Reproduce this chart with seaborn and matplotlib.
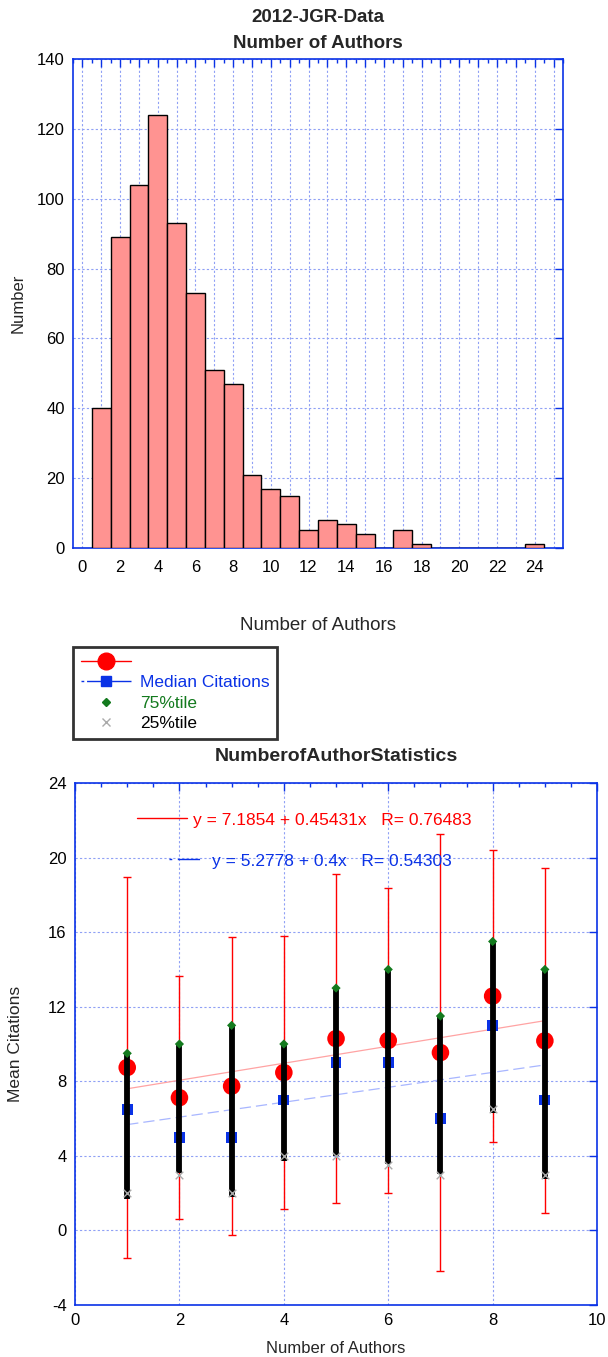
import numpy as np
import matplotlib
matplotlib.use("Agg")
import matplotlib.pyplot as plt
from matplotlib.lines import Line2D
from matplotlib.ticker import MultipleLocator, FuncFormatter
import seaborn as sns

# Histograma: cantidad de autores por artículo
autores = np.arange(1, 25)
cantidad = [40, 89, 104, 124, 93, 73, 51, 47, 21, 17, 15, 5, 8, 7, 4, 0, 5, 1, 0, 0, 0, 0, 0, 1]

# Estadísticas de citas según número de autores
n_autores = np.arange(1, 10)
media_citas = [8.74, 7.12, 7.74, 8.47, 10.29, 10.19, 9.54, 12.57, 10.17]
desvio_citas = [10.21, 6.52, 8.0, 7.3, 8.81, 8.18, 11.73, 7.84, 9.25]
mediana_citas = [6.5, 5, 5, 7, 9, 9, 6, 11, 7]
p75 = [9.5, 10, 11, 10, 13, 14, 11.5, 15.5, 14]
p25 = [2, 3, 2, 4, 4, 3.5, 3, 6.5, 3]
barra_baja = [1.7, 3.1, 1.8, 3.7, 4.0, 3.55, 3.05, 6.3, 2.75]

texto_media = "y = 7.1854 + 0.45431x   R= 0.76483"
texto_mediana = "y = 5.2778 + 0.4x   R= 0.54303"

sns.set_theme(style="white")
plt.rcParams["font.family"] = ["Liberation Sans", "DejaVu Sans"]
plt.rcParams["axes.unicode_minus"] = False

azul = "#0a32e6"
grilla = "#8fa0f5"
verde = "#137a1e"

fig = plt.figure(figsize=(6.08, 13.57), dpi=100)
ax1 = fig.add_axes([0.120, 0.5962, 0.806, 0.3603])
ax2 = fig.add_axes([0.1234, 0.0383, 0.8586, 0.3847])


def estilo(ax):
    for s in ax.spines.values():
        s.set_color(azul)
        s.set_linewidth(1.2)
    ax.tick_params(which="both", direction="in", top=True, right=True,
                   color=azul, labelsize=12, labelcolor="black", pad=6)
    ax.tick_params(which="major", length=6, width=1)
    ax.tick_params(which="minor", length=3, width=1)


# Bloque 1: histograma
sns.histplot(x=autores, weights=cantidad, discrete=True, ax=ax1,
             color="#ff9391", edgecolor="black", linewidth=1, alpha=1, zorder=3)
ax1.set_xlim(-0.5, 25.5)
ax1.set_ylim(0, 140)
ax1.xaxis.set_major_locator(MultipleLocator(1))
ax1.xaxis.set_minor_locator(MultipleLocator(0.5))
ax1.xaxis.set_major_formatter(FuncFormatter(lambda v, p: f"{v:.0f}" if round(v) % 2 == 0 else ""))
ax1.yaxis.set_major_locator(MultipleLocator(20))
ax1.grid(True, which="major", color=grilla, ls=(0, (2, 2)), lw=0.8, zorder=0)
ax1.set_axisbelow(True)
estilo(ax1)
ax1.tick_params(axis="x", pad=9)
ax1.tick_params(axis="y", which="minor", left=False, right=False)
ax1.set_xlabel("Number of Authors", fontsize=13.5, labelpad=30)
ax1.set_ylabel("Number", fontsize=12, labelpad=8)
ax1.set_title("2012-JGR-Data\nNumber of Authors", fontsize=13.5, fontweight="bold",
              linespacing=1.7, pad=8)

# Bloque 2: estadísticas
ax2.errorbar(n_autores, media_citas, yerr=desvio_citas, fmt="none", ecolor="red",
             elinewidth=1, capsize=3, capthick=1, zorder=2)
sns.regplot(x=n_autores, y=media_citas, scatter=False, ci=None, ax=ax2,
            line_kws=dict(color="#ffa3a3", lw=0.9, zorder=2))
sns.regplot(x=n_autores, y=mediana_citas, scatter=False, ci=None, ax=ax2,
            line_kws=dict(color="#a8b6ff", lw=0.9, dashes=(9, 4), zorder=2))
sns.scatterplot(x=n_autores, y=media_citas, ax=ax2, color="red", s=160,
                marker="o", edgecolor="none", zorder=3)
sns.scatterplot(x=n_autores, y=mediana_citas, ax=ax2, color=azul, s=60,
                marker="s", edgecolor="none", zorder=3)
ax2.vlines(n_autores, barra_baja, p75, color="black", lw=4.2, zorder=4)
sns.scatterplot(x=n_autores, y=p75, ax=ax2, color=verde, s=22,
                marker="D", edgecolor="none", zorder=5)
sns.scatterplot(x=n_autores, y=p25, ax=ax2, color="#aaaaaa", s=30,
                marker="x", linewidth=1, zorder=5)

ax2.set_xlim(0, 10)
ax2.set_ylim(-4, 24)
ax2.xaxis.set_major_locator(MultipleLocator(2))
ax2.xaxis.set_minor_locator(MultipleLocator(0.5))
ax2.yaxis.set_major_locator(MultipleLocator(4))
ax2.grid(True, which="major", color=grilla, ls=(0, (2, 2)), lw=0.8, zorder=0)
ax2.set_axisbelow(True)
estilo(ax2)
ax2.tick_params(axis="y", which="minor", left=False, right=False)
ax2.set_xlabel("Number of Authors", fontsize=12, labelpad=9)
ax2.set_ylabel("Mean Citations", fontsize=12.5, labelpad=18)
ax2.set_title("NumberofAuthorStatistics", fontsize=14, fontweight="bold", pad=16)

# leyendas de los ajustes dentro del gráfico
leg_a = ax2.legend([Line2D([], [], color="red", lw=1)], [texto_media],
                   loc="center left", bbox_to_anchor=((137 - 75) / 522, (1305 - 820) / 522),
                   frameon=False, fontsize=12.5, handlelength=2.9, handletextpad=0.3,
                   borderpad=0, borderaxespad=0)
leg_a.get_texts()[0].set_color("red")
ax2.add_artist(leg_a)
leg_b = ax2.legend([Line2D([], [], color=azul, lw=1, dashes=(2, 4, 14, 0))], [texto_mediana],
                   loc="center left", bbox_to_anchor=((169 - 75) / 522, (1305 - 861) / 522),
                   frameon=False, fontsize=12.5, handlelength=2.0, handletextpad=0.5,
                   borderpad=0, borderaxespad=0)
leg_b.get_texts()[0].set_color(azul)

# leyenda general arriba
h_ley = [Line2D([], [], color="red", lw=1, marker="o", markersize=12),
         Line2D([], [], color=azul, lw=1, dashes=(2, 2, 14, 0), marker="s", markersize=7),
         Line2D([], [], color=verde, ls="none", marker="D", markersize=4),
         Line2D([], [], color="#aaaaaa", ls="none", marker="x", markersize=6)]
ley = fig.legend(h_ley, ["", "Median Citations", "75%tile", "25%tile"],
                 loc="upper left", bbox_to_anchor=(73 / 608, 1 - 647 / 1357),
                 borderaxespad=0, fontsize=12.5, frameon=True, fancybox=False,
                 edgecolor="black", handlelength=2.9, handletextpad=0.5,
                 labelspacing=0.3, borderpad=0.45)
ley.get_frame().set_linewidth(2)
for t, c in zip(ley.get_texts(), ["red", azul, verde, "black"]):
    t.set_color(c)

fig.savefig("out.png", dpi=100)
